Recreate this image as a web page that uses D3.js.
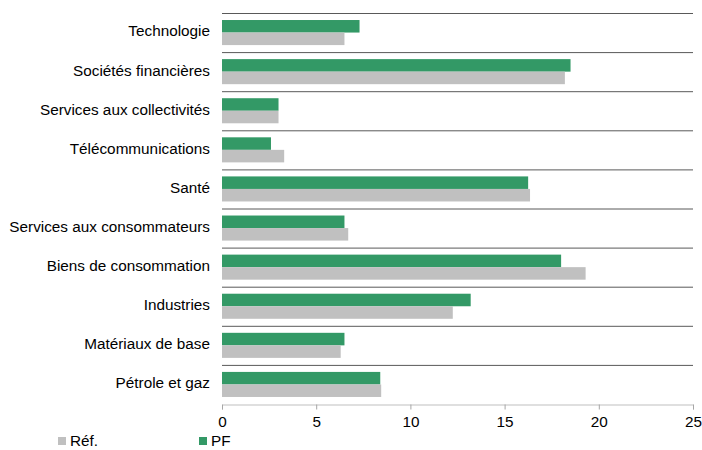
<!DOCTYPE html>
<html>
<head>
<meta charset="utf-8">
<script src="https://cdn.jsdelivr.net/npm/d3@7"></script>
<style>
  body { margin: 0; background: #fff; }
  text { font-family: "Liberation Sans", Arial, sans-serif; }
</style>
</head>
<body>
<div id="chart"></div>
<script>
let categories = ["Technologie", "Sociétés financières", "Services aux collectivités",
  "Télécommunications", "Santé", "Services aux consommateurs", "Biens de consommation",
  "Industries", "Matériaux de base", "Pétrole et gaz"];
let pfValues = [7.3, 18.5, 3.0, 2.6, 16.25, 6.5, 18.0, 13.2, 6.5, 8.4];
let refValues = [6.5, 18.2, 3.0, 3.3, 16.35, 6.7, 19.3, 12.25, 6.3, 8.45];
let xTicks = [0, 5, 10, 15, 20, 25];
let seriesNames = ["Réf.", "PF"];
let colors = { ref: "#c0c0c0", pf: "#339966" };

let margin = { top: 13, right: 9, bottom: 46, left: 222 },
  width = 702 - margin.left - margin.right,
  height = 450 - margin.top - margin.bottom;

let svg = d3.select("#chart")
  .append("svg")
  .attr("width", 702)
  .attr("height", 450)
  .append("g")
  .attr("transform", "translate(" + margin.left + "," + margin.top + ")");

let x = d3.scaleLinear()
  .domain([0, 25])
  .range([0, width]);

let y = d3.scaleBand()
  .domain(categories)
  .range([0, height]);

let inner = d3.scaleBand()
  .domain(["pf", "ref"])
  .range([0, y.bandwidth()])
  .paddingOuter(0.56);

// separators above each band
svg.append("g")
  .selectAll("line")
  .data(categories)
  .join("line")
  .attr("x1", 0)
  .attr("x2", width)
  .attr("y1", d => y(d) + 0.5)
  .attr("y2", d => y(d) + 0.5)
  .attr("stroke", "#595959")
  .attr("stroke-width", 1);

svg.append("g")
  .selectAll("rect")
  .data(categories)
  .join("rect")
  .attr("x", 0)
  .attr("y", d => y(d) + inner("pf"))
  .attr("width", (d, i) => x(pfValues[i]))
  .attr("height", inner.bandwidth())
  .style("fill", colors.pf);

svg.append("g")
  .selectAll("rect")
  .data(categories)
  .join("rect")
  .attr("x", 0)
  .attr("y", d => y(d) + inner("ref"))
  .attr("width", (d, i) => x(refValues[i]))
  .attr("height", inner.bandwidth())
  .style("fill", colors.ref);

// category labels
svg.append("g")
  .selectAll("text")
  .data(categories)
  .join("text")
  .attr("x", -12)
  .attr("y", d => y(d) + y.bandwidth() / 2 - 1.5)
  .attr("dy", "0.35em")
  .attr("text-anchor", "end")
  .style("font-size", "15.3px")
  .style("fill", "#000")
  .text(d => d);

let xAxis = svg.append("g")
  .attr("transform", "translate(0," + (height + 0.5) + ")")
  .call(d3.axisBottom(x).tickValues(xTicks).tickSize(5).tickPadding(7));

xAxis.select(".domain").attr("stroke", "#bfbfbf");
xAxis.selectAll(".tick line").attr("stroke", "#a6a6a6");
xAxis.selectAll(".tick text")
  .style("font-size", "15.3px")
  .style("font-family", "'Liberation Sans', Arial, sans-serif")
  .style("fill", "#000");

// legend
let legend = svg.append("g")
  .attr("transform", "translate(0," + (height + 33) + ")");

let legendItems = [
  { name: seriesNames[0], color: colors.ref, x: -164 },
  { name: seriesNames[1], color: colors.pf, x: -23 }
];

legendItems.forEach(item => {
  legend.append("rect")
    .attr("x", item.x)
    .attr("y", 0)
    .attr("width", 8)
    .attr("height", 8)
    .style("fill", item.color);
  legend.append("text")
    .attr("x", item.x + 12)
    .attr("y", 4)
    .attr("dy", "0.35em")
    .style("font-size", "15.3px")
    .style("fill", "#000")
    .text(item.name);
});
</script>
</body>
</html>
